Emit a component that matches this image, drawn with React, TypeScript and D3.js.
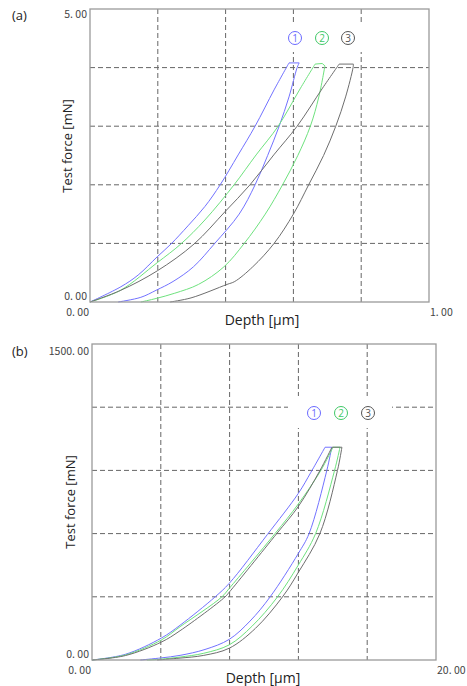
import React from 'react';
import * as d3 from 'd3';

// ---- data: [depth, force] pairs ----
// panel (a): depth in µm, force in mN
const aLoad1 = [[0, 0], [0.091, 0.26], [0.142, 0.46], [0.198, 0.77], [0.239, 0.99], [0.289, 1.3], [0.339, 1.63], [0.384, 2.0], [0.437, 2.51], [0.487, 3.0], [0.543, 3.62], [0.587, 4.08]];
const aUnload1 = [[0.617, 4.08], [0.611, 4.0], [0.587, 3.5], [0.558, 3.0], [0.524, 2.5], [0.487, 2.0], [0.44, 1.5], [0.368, 1.0], [0.305, 0.6], [0.245, 0.35], [0.195, 0.2], [0.15, 0.08], [0.083, 0]];
const aLoad2 = [[0, 0], [0.09, 0.2], [0.198, 0.67], [0.268, 0.99], [0.339, 1.4], [0.425, 2.0], [0.49, 2.51], [0.555, 3.0], [0.621, 3.65], [0.664, 4.06]];
const aHold2 = [[0.664, 4.06], [0.685, 4.07], [0.693, 4.03]];
const aUnload2 = [[0.693, 4.03], [0.675, 3.5], [0.65, 3.0], [0.613, 2.5], [0.568, 2.0], [0.517, 1.5], [0.455, 1.0], [0.395, 0.6], [0.32, 0.3], [0.25, 0.15], [0.195, 0.06], [0.15, 0]];
const aLoad3 = [[0, 0], [0.091, 0.2], [0.198, 0.53], [0.307, 0.99], [0.398, 1.54], [0.472, 2.0], [0.542, 2.51], [0.611, 3.0], [0.686, 3.65], [0.735, 4.06]];
const aUnload3 = [[0.777, 4.06], [0.776, 4.0], [0.754, 3.5], [0.725, 3.0], [0.689, 2.5], [0.645, 2.0], [0.6, 1.5], [0.543, 1.0], [0.48, 0.6], [0.427, 0.35], [0.404, 0.3], [0.298, 0.07], [0.236, 0]];

// panel (b): depth in µm, force in mN
const bLoad1 = [[0, 0], [1.94, 27], [4.03, 104], [5.12, 165], [7.15, 299], [7.98, 364], [10.19, 595], [11.99, 790], [12.72, 890], [13.55, 1010]];
const bUnload1 = [[13.94, 1010], [13.65, 899], [12.62, 600], [11.99, 505], [10.35, 299], [9.19, 185], [7.98, 98], [6.57, 50], [5.12, 22], [4.03, 10], [2.81, 0]];
const bLoad2 = [[0, 0], [1.94, 24], [4.03, 95], [5.12, 158], [7.54, 299], [7.98, 340], [10.64, 600], [11.99, 740], [13.3, 899], [14.01, 1010]];
const bUnload2 = [[14.42, 1010], [14.1, 899], [13.0, 600], [11.99, 450], [10.78, 299], [9.3, 160], [7.98, 72], [6.5, 32], [5.12, 14], [4.0, 4], [3.2, 0]];
const bLoad3 = [[0, 0], [1.94, 21], [4.03, 85], [5.12, 139], [7.73, 299], [7.98, 322], [10.74, 600], [11.99, 728], [13.25, 899], [13.95, 1010]];
const bUnload3 = [[14.53, 1010], [14.27, 899], [13.25, 600], [11.99, 415], [11.07, 299], [9.5, 150], [7.98, 56], [6.5, 22], [5.12, 9], [3.78, 0]];

const seriesColors = ['#7272ff', '#6ee27e', '#6e6e6e'];
const legendText = ['#6a6aff', '#3fc867', '#555555'];
const legendLabels = ['1', '2', '3'];

const panels = [
  {
    tag: '(a)', xMax: 1, yMax: 5, xMaxLabel: '1. 00', yMaxLabel: '5. 00',
    box: { left: 90, right: 429, top: 9, bottom: 302 },
    curves: [
      { load: aLoad1, hold: null, unload: aUnload1 },
      { load: aLoad2, hold: aHold2, unload: aUnload2 },
      { load: aLoad3, hold: null, unload: aUnload3 },
    ],
    legendX: [295, 322, 348], legendY: 38, legendBg: { x: 280, y: 24, w: 85, h: 28 },
    yTitle: { x: 67, y: 146 }, xTitle: { x: 262, y: 320 }, tagY: 20,
    yMaxDy: 9, y0Dy: -2, x0End: 89,
  },
  {
    tag: '(b)', xMax: 20, yMax: 1500, xMaxLabel: '20. 00', yMaxLabel: '1500. 00',
    box: { left: 92, right: 436, top: 344, bottom: 660 },
    curves: [
      { load: bLoad1, hold: null, unload: bUnload1 },
      { load: bLoad2, hold: null, unload: bUnload2 },
      { load: bLoad3, hold: null, unload: bUnload3 },
    ],
    legendX: [314, 341, 368], legendY: 413, legendBg: { x: 288, y: 396, w: 104, h: 32 },
    yTitle: { x: 70, y: 502 }, xTitle: { x: 263, y: 678 }, tagY: 356,
    yMaxDy: 11, y0Dy: -2, x0End: 91,
  },
];

const tickFont = '"Noto Sans CJK JP", "DejaVu Sans", sans-serif';
const titleFont = '"Open Sans", "Noto Sans", sans-serif';

function Panel({ p }) {
  const { box } = p;
  const x = d3.scaleLinear().domain([0, p.xMax]).range([box.left, box.right]);
  const y = d3.scaleLinear().domain([0, p.yMax]).range([box.bottom, box.top]);
  const xGrid = d3.range(1, 5).map(i => (p.xMax / 5) * i);
  const yGrid = d3.range(1, 5).map(i => (p.yMax / 5) * i);

  // catmull-rom keeps the steep parts of the loops smooth
  const smooth = d3.line().x(d => x(d[0])).y(d => y(d[1])).curve(d3.curveCatmullRom.alpha(0.5));
  const straight = d3.line().x(d => x(d[0])).y(d => y(d[1]));

  return (
    <g>
      <text x={12} y={p.tagY} fontFamily={titleFont} fontSize={13} fill="#222">{p.tag}</text>

      {xGrid.map(v => (
        <line key={'gx' + v} x1={x(v)} x2={x(v)} y1={box.top} y2={box.bottom}
          stroke="#666" strokeWidth={1} strokeDasharray="5,3" />
      ))}
      {yGrid.map(v => (
        <line key={'gy' + v} x1={box.left} x2={box.right} y1={y(v)} y2={y(v)}
          stroke="#666" strokeWidth={1} strokeDasharray="5,3" />
      ))}

      {/* legend sits on a white patch that breaks the grid */}
      <rect x={p.legendBg.x} y={p.legendBg.y} width={p.legendBg.w} height={p.legendBg.h} fill="#fff" />
      {legendLabels.map((l, i) => (
        <g key={'lg' + l}>
          <circle cx={p.legendX[i]} cy={p.legendY} r={6.5} fill="none" stroke={legendText[i]} strokeWidth={1} />
          <text x={p.legendX[i]} y={p.legendY} dy="0.35em" textAnchor="middle" fontFamily={titleFont}
            fontSize={10} fill={legendText[i]}>{l}</text>
        </g>
      ))}

      {p.curves.map((c, i) => {
        const last = c.load[c.load.length - 1];
        const hold = c.hold || [last, c.unload[0]];
        return (
          <g key={'c' + i} fill="none" stroke={seriesColors[i]} strokeWidth={1}>
            <path d={smooth(c.load)} />
            <path d={straight(hold)} />
            <path d={smooth(c.unload)} />
          </g>
        );
      })}

      <rect x={box.left} y={box.top} width={box.right - box.left} height={box.bottom - box.top}
        fill="none" stroke="#9a9a9a" strokeWidth={1.3} />

      <g fontFamily={tickFont} fontSize={10.5} fill="#444">
        <text x={box.left - 3} y={box.top + p.yMaxDy} textAnchor="end">{p.yMaxLabel}</text>
        <text x={box.left - 3} y={box.bottom + p.y0Dy} textAnchor="end">0. 00</text>
        <text x={p.x0End} y={box.bottom + 13.5} textAnchor="end">0. 00</text>
        <text x={box.right + 1} y={box.bottom + 13.5} textAnchor="start">{p.xMaxLabel}</text>
      </g>

      <text transform={`translate(${p.yTitle.x},${p.yTitle.y}) rotate(-90)`} textAnchor="middle" dy="0.35em"
        fontFamily={titleFont} fontSize={13} fill="#222">Test force [mN]</text>
      <text x={p.xTitle.x} y={p.xTitle.y} dy="0.35em" textAnchor="middle"
        fontFamily={titleFont} fontSize={14} fill="#222">Depth [μm]</text>
    </g>
  );
}

export default function App() {
  return (
    <svg width={467} height={686} style={{ position: 'absolute', left: 0, top: 0, background: '#fff' }}>
      <rect width={467} height={686} fill="#fff" />
      {panels.map(p => <Panel key={p.tag} p={p} />)}
    </svg>
  );
}
